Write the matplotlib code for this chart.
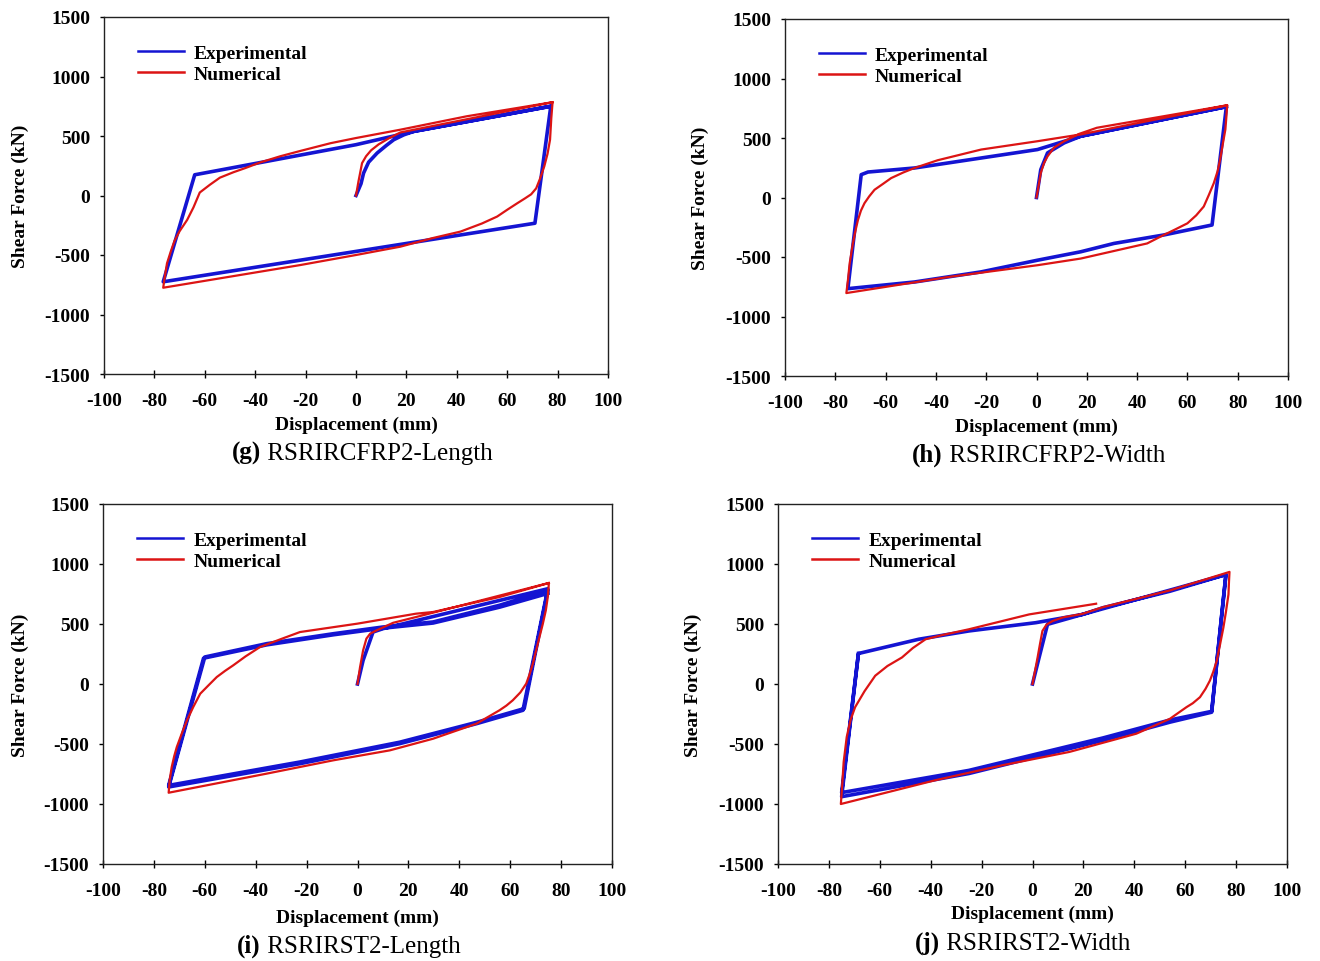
import numpy as np
import matplotlib
matplotlib.use('Agg')
import matplotlib.pyplot as plt

plt.rcParams['font.family'] = ['Liberation Serif', 'DejaVu Serif']
plt.rcParams['axes.unicode_minus'] = False

# (g) RSRIRCFRP2-Length
g_exp_x = [0, 2, 3, 5, 8.4, 12, 15, 19, 23, 77.3, 71, -76.5, -64, 0, 23, 77.3]
g_exp_y = [0, 100, 188, 280, 357, 420, 469, 510, 539, 750, -233, -725, 174, 427, 539, 750]
g_num_x = [0, 1, 2.4, 4, 6, 9, 13, 17.6, 78,
           77.5, 77, 76, 74.7, 73, 71.5, 69.5, 67, 64, 60, 56, 50, 41.5, 30, 17.6, 0, -22, -76.5,
           -76, -75, -73.5, -72, -70, -67, -64.5, -62, -58, -54, -48.7, -44, -38, -30, -22, -10, 0, 17.6, 44, 78]
g_num_y = [0, 120, 272, 330, 380, 430, 480, 530, 784,
           650, 469, 350, 244, 140, 60, 10, -25, -65, -120, -177, -235, -303, -360, -430, -500, -584, -775,
           -700, -570, -470, -380, -300, -205, -100, 25, 90, 150, 195, 230, 278, 330, 375, 440, 483, 553, 666, 784]

# (h) RSRIRCFRP2-Width
h_exp_x = [0, 1.7, 4.4, 11, 17.6, 75.5, 69.8, 50.6, 30.8, 17.6, 0.4, -22, -48.5, -75,
           -69.7, -67, -48.5, -22, 0.4, 17.6, 30.8, 75.5]
h_exp_y = [0, 234, 375, 459, 515, 763, -231, -315, -386, -456, -527, -625, -710, -766,
           192, 214, 248, 332, 403, 515, 572, 763]
h_num_x = [0, 1, 1.7, 3, 4.4, 7, 11, 17, 24, 75.8,
           75.5, 75.1, 74, 73, 72, 70.5, 68.5, 66.5, 63.5, 60, 55, 50.6, 44, 17.6, 0.4, -35, -75.6,
           -75, -74.3, -73, -72, -71, -69.8, -68.4, -66.5, -64.4, -61, -57.8, -53, -48.5, -39.3, -22, 0.4,
           17.6, 30.8, 75.8]
h_num_y = [0, 120, 206, 290, 346, 420, 473, 535, 586, 775,
           680, 572, 440, 318, 220, 121, 20, -76, -150, -217, -270, -315, -386, -513, -569, -668, -803,
           -700, -555, -386, -280, -189, -110, -48, 10, 65, 115, 163, 210, 248, 313, 403, 473,
           530, 586, 775]

# (i) RSRIRST2-Length
i_exp_x = [0, 2.2, 6.1, 10, 74.8, 65, 46.7, 16.6, -22.6, -74.2, -60, -35.7, -9.5, 10, 29.7, 55.8, 74.8,
           65.5, 46.7, 16.6, -22.6, -74.2, -60.5, -35.7, -9.5, 10, 29.7, 55.8, 74.8]
i_exp_y = [0, 197, 433, 461, 794, -219, -331, -497, -664, -858, 225, 336, 419, 475, 517, 656, 781,
           -205, -320, -485, -650, -845, 215, 326, 410, 465, 508, 640, 755]
i_num_x = [0, 1, 2.2, 3.5, 5, 7.5, 14, 23, 75.2,
           74.8, 74, 72.8, 71.5, 70.2, 68.9, 67.6, 66.3, 64, 61, 58.5, 55.8, 46.7, 29.7, 12.7, -9.5, -35.7, -74.2,
           -73.8, -73, -72, -71, -69, -67, -64.5, -61.8, -58.5, -55.3, -52, -48.8, -44, -38.3, -30, -22.6,
           0, 23, 29.7, 55.8, 75.2]
i_num_y = [0, 140, 280, 378, 420, 447, 510, 558, 842,
           730, 614, 500, 392, 280, 169, 80, 3, -70, -136, -180, -219, -331, -456, -553, -636, -747, -906,
           -800, -692, -600, -525, -410, -303, -190, -81, -10, 58, 110, 156, 230, 308, 375, 433,
           503, 586, 600, 725, 842]

# (j) RSRIRST2-Width
j_exp_x = [0, 2.6, 5.9, 19.7, 27.6, 54, 76, 70.4, 54, 27.6, 1.3, -25, -75, -68.4, -44.7, -25, 1.3, 19.7, 76,
           70.4, 54, 27.6, 1.3, -25, -75, -68.4]
j_exp_y = [0, 221, 497, 580, 635, 773, 912, -235, -318, -470, -608, -746, -939, 254, 373, 442, 511, 580, 912,
           -228, -300, -450, -585, -720, -905, 254]
j_num_x = [0, 1, 2, 3, 3.9, 5.5, 7.9, 12, 19.7, 27.6, 54, 77.4,
           77.2, 77, 76, 75, 73.7, 72.4, 71, 69.7, 68, 65.8, 63, 60.5, 57, 54, 40.8, 14.5, -11.8, -38, -75.3,
           -74.8, -74.2, -73, -71.5, -69.7, -66, -61.8, -57, -51.3, -47, -42, -35, -25, -1.3, 25]
j_num_y = [0, 110, 221, 340, 442, 495, 525, 555, 585, 640, 780, 934,
           850, 746, 600, 470, 330, 193, 100, 28, -40, -110, -160, -193, -245, -290, -414, -566, -677, -801, -1000,
           -850, -650, -442, -300, -193, -60, 69, 150, 221, 300, 373, 410, 456, 580, 669]

panels = [
    ('(g)', ' RSRIRCFRP2-Length', g_exp_x, g_exp_y, g_num_x, g_num_y),
    ('(h)', ' RSRIRCFRP2-Width', h_exp_x, h_exp_y, h_num_x, h_num_y),
    ('(i)', ' RSRIRST2-Length', i_exp_x, i_exp_y, i_num_x, i_num_y),
    ('(j)', ' RSRIRST2-Width', j_exp_x, j_exp_y, j_num_x, j_num_y),
]

W, H = 1320, 962
# axes boxes in pixels: left, top, right, bottom
boxes = [(104, 18, 608, 375), (785, 20, 1288, 377), (103, 505, 612, 865), (778, 505, 1287, 865)]
# caption start x, caption y, x-label y, y-label x (pixels)
caps = [(232, 453, 425, 20), (912, 455, 427, 700), (237, 946, 918, 20), (915, 943, 914, 693)]

fig = plt.figure(figsize=(W / 100, H / 100), dpi=100)

for (tag, name, ex, ey, nx, ny), (l, t, r, b), (cx, cy, xly, ylx) in zip(panels, boxes, caps):
    ax = fig.add_axes([l / W, 1 - b / H, (r - l) / W, (b - t) / H])
    ax.plot(ex, ey, color='#1414d2', lw=2.6, label='Experimental', solid_joinstyle='round')
    ax.plot(nx, ny, color='#dc1414', lw=1.6, label='Numerical')
    ax.set_xlim(-100, 100)
    ax.set_ylim(-1500, 1500)
    ax.set_xticks(np.arange(-100, 101, 20))
    ax.set_yticks(np.arange(-1500, 1501, 500))
    ax.tick_params(axis='x', direction='inout', length=6, width=1, pad=10, labelsize=14)
    ax.tick_params(axis='y', direction='out', length=3, width=1, pad=7, labelsize=14)
    for lab in ax.get_xticklabels() + ax.get_yticklabels():
        lab.set_fontweight('bold')
    for sp in ax.spines.values():
        sp.set_linewidth(1.0)
        sp.set_color('#222222')
    leg = ax.legend(loc='upper left', bbox_to_anchor=(0.032, 0.972), frameon=False,
                    prop={'weight': 'bold', 'size': 14}, handlelength=2.4,
                    handletextpad=0.5, labelspacing=0.18)
    for h in leg.legend_handles:
        h.set_linewidth(1.8)

    xc = (l + r) / 2
    fig.text(xc / W, 1 - xly / H, 'Displacement (mm)', ha='center', va='center',
             fontsize=14, fontweight='bold')
    fig.text(ylx / W, 1 - (t + b) / 2 / H, 'Shear Force (kN)', ha='center', va='center',
             rotation=90, fontsize=14, fontweight='bold')
    t1 = fig.text(cx / W, 1 - cy / H, tag, ha='left', va='center', fontsize=18, fontweight='bold')
    ax.annotate(name, xy=(1, 0), xycoords=t1, ha='left', va='bottom', fontsize=18)

fig.savefig('out.png', dpi=100)
